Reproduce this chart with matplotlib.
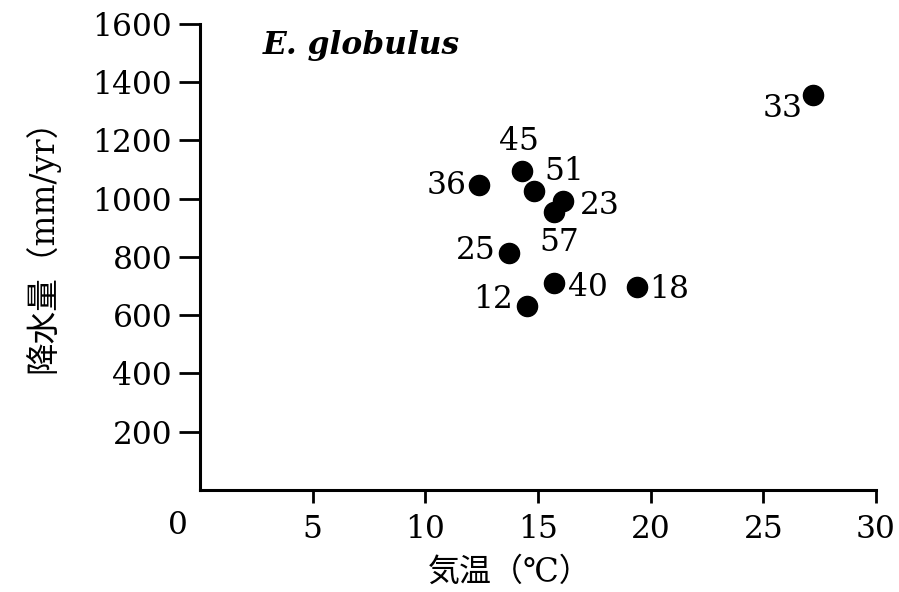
"""
E. globulus: annual precipitation vs. temperature scatter
"""

import matplotlib
matplotlib.use("Agg")
import matplotlib.pyplot as plt

# data
site_ids = ["33", "36", "45", "51", "23", "57", "25", "40", "18", "12"]
temp_c = [27.2, 12.4, 14.3, 14.8, 16.1, 15.7, 13.7, 15.7, 19.4, 14.5]
precip_mm = [1355, 1048, 1096, 1027, 993, 953, 813, 710, 698, 633]

# label placement (offset in pixels, horizontal alignment)
label_pos = {
    "33": ((-10, -13), "right"),
    "36": ((-13, -1), "right"),
    "45": ((-3, 29), "center"),
    "51": ((11, 19), "left"),
    "23": ((17, -5), "left"),
    "57": ((5, -30), "center"),
    "25": ((-13, 3), "right"),
    "40": ((14, -4), "left"),
    "18": ((12, -3), "left"),
    "12": ((-14, 6), "right"),
}

x_ticks = [5, 10, 15, 20, 25, 30]
y_ticks = [200, 400, 600, 800, 1000, 1200, 1400, 1600]

serif = ["DejaVu Serif", "Noto Sans CJK JP"]
plt.rcParams["font.family"] = serif
num_size = 22.5

fig = plt.figure(figsize=(8.99, 5.92), dpi=100)
ax = fig.add_axes([0.2225, 0.1723, 0.7519, 0.7872])

ax.plot(temp_c, precip_mm, "o", color="black", markersize=14.5, clip_on=False)

for sid, x, y in zip(site_ids, temp_c, precip_mm):
    off, ha = label_pos[sid]
    ax.annotate(sid, (x, y), xytext=off, textcoords="offset pixels",
                ha=ha, va="center", fontsize=num_size)

ax.set_xlim(0, 30)
ax.set_ylim(0, 1600)
ax.set_xticks(x_ticks)
ax.set_yticks(y_ticks)
ax.tick_params(axis="x", direction="out", length=9, width=2, pad=8, labelsize=num_size)
ax.tick_params(axis="y", direction="out", length=15, width=2, pad=5, labelsize=num_size)

for side in ["top", "right"]:
    ax.spines[side].set_visible(False)
for side in ["left", "bottom"]:
    ax.spines[side].set_linewidth(2.2)

# shared origin label
ax.annotate("0", (0, 0), xytext=(-22, -36), textcoords="offset pixels",
            ha="center", va="center", fontsize=num_size)

ax.text(2.8, 1527, "E. globulus", style="italic", fontweight="bold",
        fontsize=22.5, ha="left", va="center")

fig.text(510 / 899, 1 - 572 / 592, "気温（℃）", fontsize=23,
         ha="center", va="center", family=serif)
fig.text(42 / 899, 1 - 238 / 592, "降水量（mm/yr）", fontsize=23.5, rotation=90,
         ha="center", va="center", family=serif)

fig.savefig("out.png", dpi=100, facecolor="white")
